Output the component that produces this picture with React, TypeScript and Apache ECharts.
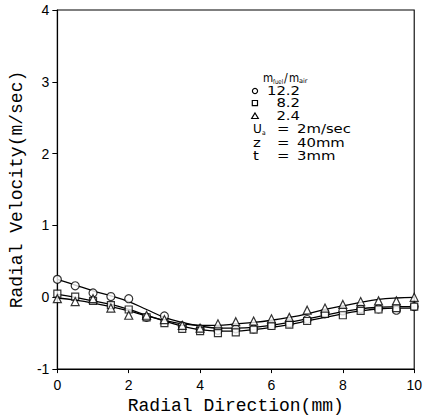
import React, { useEffect, useRef } from "react";
import * as echarts from "echarts";

const xPositions = [0, 0.5, 1, 1.5, 2, 2.5, 3, 3.5, 4, 4.5, 5, 5.5, 6, 6.5, 7, 7.5, 8, 8.5, 9, 9.5, 10];

// measured points
const circle12_2 = [0.25, 0.16, 0.06, 0.01, -0.02, -0.28, -0.26, -0.4, -0.44, -0.46, -0.44, -0.44, -0.39, -0.36, -0.31, -0.23, -0.19, -0.16, -0.16, -0.18, -0.13];
const square8_2 = [0.05, 0.01, -0.05, -0.11, -0.17, -0.28, -0.36, -0.44, -0.47, -0.5, -0.49, -0.45, -0.4, -0.38, -0.33, -0.23, -0.25, -0.19, -0.17, -0.15, -0.13];
const triangle2_4 = [-0.02, -0.06, -0.02, -0.15, -0.25, -0.25, -0.31, -0.39, -0.43, -0.37, -0.34, -0.33, -0.3, -0.28, -0.18, -0.15, -0.1, -0.06, -0.05, -0.05, 0.0];

// fitted curves
const fit12_2 = [0.25, 0.17, 0.09, 0.02, -0.06, -0.17, -0.28, -0.35, -0.4, -0.43, -0.43, -0.42, -0.39, -0.35, -0.3, -0.25, -0.2, -0.16, -0.14, -0.13, -0.13];
const fit8_2 = [0.04, 0.0, -0.05, -0.1, -0.17, -0.25, -0.33, -0.4, -0.45, -0.47, -0.47, -0.45, -0.42, -0.38, -0.33, -0.28, -0.23, -0.19, -0.16, -0.15, -0.15];
const fit2_4 = [-0.01, -0.04, -0.08, -0.13, -0.19, -0.26, -0.32, -0.37, -0.39, -0.39, -0.37, -0.35, -0.32, -0.28, -0.23, -0.17, -0.12, -0.07, -0.03, -0.01, 0.0];

const xTicks = { min: 0, max: 10, interval: 2 };
const yTicks = { min: -1, max: 4, interval: 1 };

const pair = (vals: number[]) => vals.map((v, i) => [xPositions[i], v]);

const legendFont = "11px 'DejaVu Sans'";
const subFont = "6px 'DejaVu Sans'";

export default function App() {
  const ref = useRef<HTMLDivElement>(null);
  useEffect(() => {
    if (!ref.current) return;
    const chart = echarts.init(ref.current, null, { renderer: "svg" });
    const txt = (x: number, y: number, text: string, font = legendFont, align = "left", sx = 1.35) => ({
      type: "text",
      x,
      y,
      scaleX: sx,
      scaleY: 1.1,
      style: { text, font, fill: "#000", align, verticalAlign: "middle" },
    });
    const scatterBase = {
      type: "scatter",
      symbolSize: 8,
      itemStyle: { color: "#fff", borderColor: "#000", borderWidth: 1.2 },
      z: 3,
    };
    const lineBase = {
      type: "line",
      smooth: 0.4,
      showSymbol: false,
      symbol: "none",
      lineStyle: { color: "#000", width: 1.3 },
      z: 2,
    };
    chart.setOption({
      animation: false,
      backgroundColor: "#fff",
      grid: { left: 55, right: 8, top: 10, bottom: 47, show: true, borderColor: "#000", borderWidth: 1.1 },
      xAxis: {
        type: "value",
        min: xTicks.min,
        max: xTicks.max,
        interval: xTicks.interval,
        name: "Radial Direction(mm)",
        nameLocation: "middle",
        nameGap: 18,
        nameTextStyle: { fontFamily: "Liberation Mono", fontSize: 18, color: "#000" },
        axisLine: { onZero: false, lineStyle: { color: "#000", width: 1.2 } },
        axisTick: { inside: false, length: 4, lineStyle: { color: "#000" } },
        axisLabel: { margin: 9, fontFamily: "Liberation Sans", fontSize: 14, color: "#000" },
        splitLine: { show: false },
      },
      yAxis: {
        type: "value",
        min: yTicks.min,
        max: yTicks.max,
        interval: yTicks.interval,
        name: "Radial Velocity(m/sec)",
        nameLocation: "middle",
        nameGap: 30,
        nameTextStyle: { fontFamily: "Liberation Mono", fontSize: 18, color: "#000" },
        axisLine: { onZero: false, lineStyle: { color: "#000", width: 1.2 } },
        axisTick: { inside: false, length: 5, lineStyle: { color: "#000" } },
        axisLabel: { margin: 8, fontFamily: "Liberation Sans", fontSize: 14, color: "#000" },
        splitLine: { show: false },
      },
      series: [
        { ...lineBase, name: "fit 12.2", data: pair(fit12_2) },
        { ...lineBase, name: "fit 8.2", data: pair(fit8_2) },
        { ...lineBase, name: "fit 2.4", data: pair(fit2_4) },
        { ...scatterBase, name: "12.2", symbol: "circle", data: pair(circle12_2) },
        { ...scatterBase, name: "8.2", symbol: "rect", symbolSize: 7, data: pair(square8_2) },
        { ...scatterBase, name: "2.4", symbol: "triangle", data: pair(triangle2_4) },
      ],
      graphic: [
        txt(263, 78, "m", legendFont, "left", 0.95),
        txt(273, 81, "fuel", subFont, "left", 0.9),
        txt(284, 78, "/", legendFont, "left", 1),
        txt(289, 78, "m", legendFont, "left", 0.95),
        txt(299, 81, "air", subFont, "left", 1.1),
        { type: "circle", shape: { cx: 255, cy: 91, r: 2.6 }, style: { fill: "#fff", stroke: "#000", lineWidth: 1.2 } },
        txt(300, 91, "12.2", legendFont, "right"),
        { type: "rect", shape: { x: 252.3, y: 100.5, width: 5.2, height: 5.2 }, style: { fill: "#fff", stroke: "#000", lineWidth: 1.2 } },
        txt(300, 103, "8.2", legendFont, "right"),
        { type: "polygon", shape: { points: [[255, 113], [258.3, 118.5], [251.7, 118.5]] }, style: { fill: "#fff", stroke: "#000", lineWidth: 1.2 } },
        txt(300, 116, "2.4", legendFont, "right"),
        txt(253, 129, "U", legendFont, "left", 1.1),
        txt(262, 132, "a", subFont, "left", 1),
        txt(277, 129, "="),
        txt(297, 129, "2m/sec"),
        txt(253, 143, "z"),
        txt(277, 143, "="),
        txt(297, 143, "40mm"),
        txt(253, 156, "t"),
        txt(277, 156, "="),
        txt(297, 156, "3mm"),
      ],
    });
    return () => chart.dispose();
  }, []);
  return <div ref={ref} style={{ width: 425, height: 420, position: "absolute", left: 0, top: 0 }} />;
}
